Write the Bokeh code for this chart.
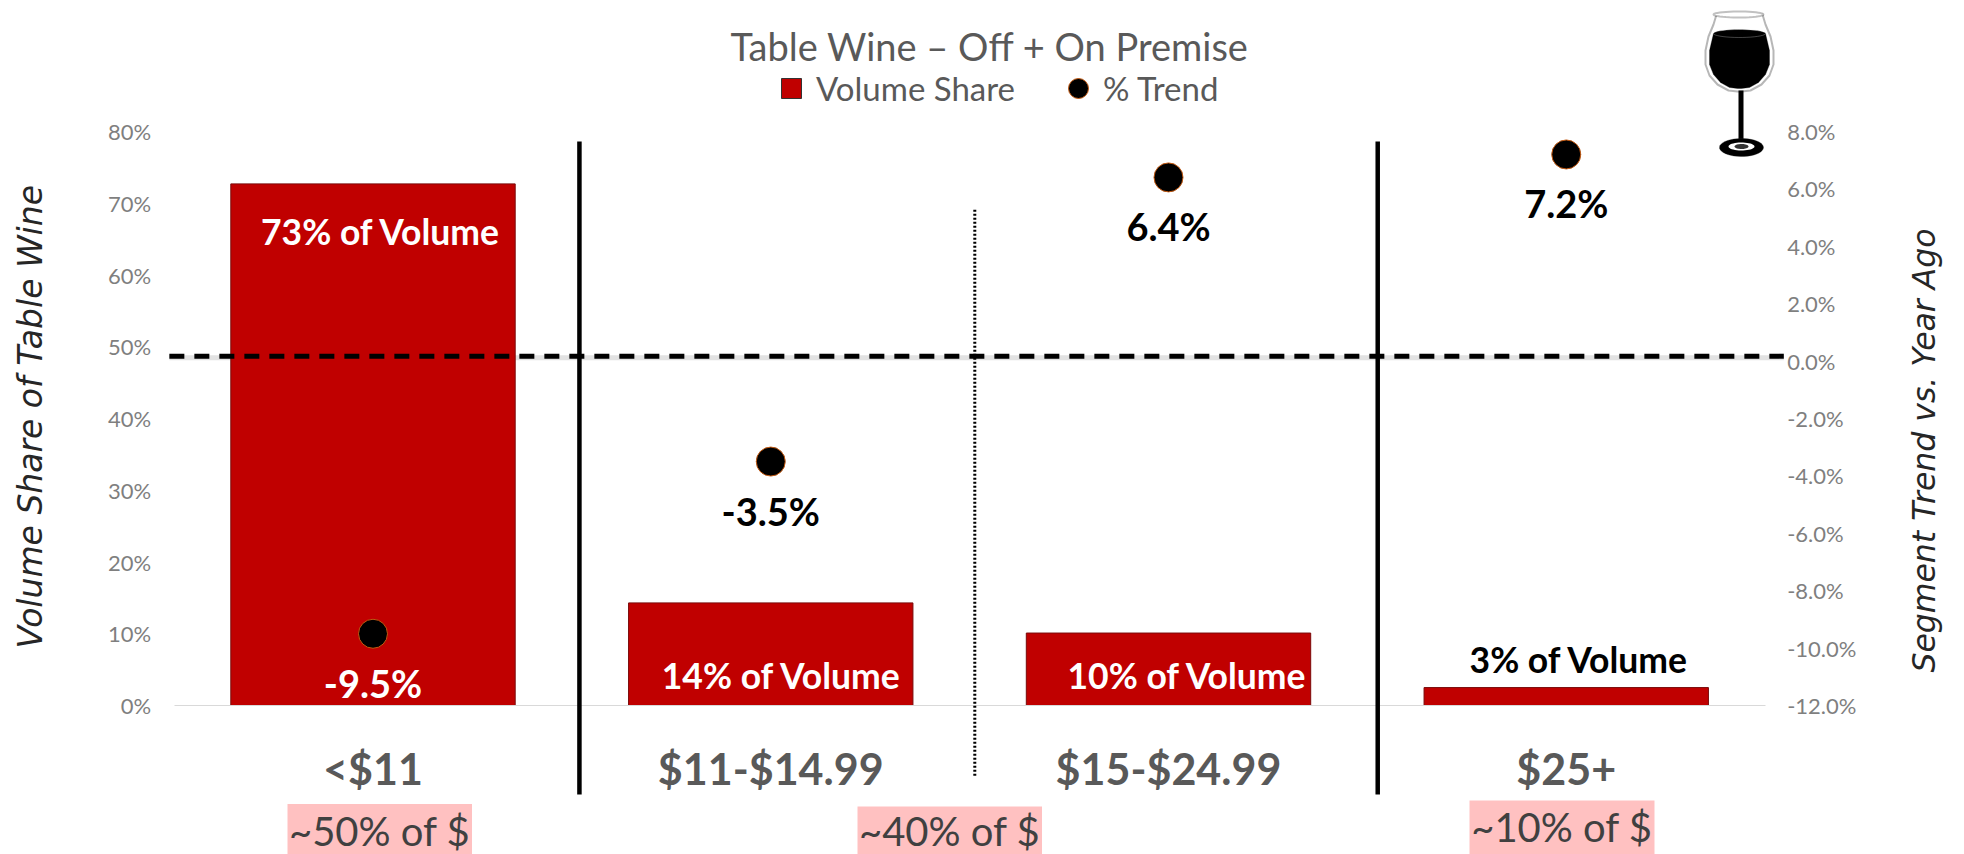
import numpy as np
from bokeh.core.properties import value
from bokeh.embed import file_html
from bokeh.models import (Arrow, BoxAnnotation, FixedTicker, Label, Legend, LegendItem, LinearAxis,
                          PolyAnnotation, PrintfTickFormatter, Range1d)
from bokeh.plotting import figure
from bokeh.resources import INLINE

# ---- data ----
categories = ["<$11", "$11-$14.99", "$15-$24.99", "$25+"]
volume_share = [72.7, 14.3, 10.1, 2.5]
volume_pct_labels = ["73% of Volume", "14% of Volume", "10% of Volume", "3% of Volume"]
trend = [-9.5, -3.5, 6.4, 7.2]
trend_labels = ["-9.5%", "-3.5%", "6.4%", "7.2%"]
dollar_labels = ["~50% of $", "~40% of $", "~10% of $"]
share_ticks = [0, 10, 20, 30, 40, 50, 60, 70, 80]
trend_ticks = [-12, -10, -8, -6, -4, -2, 0, 2, 4, 6, 8]

# ---- style ----
RED = "#C00000"
GREY = "#595959"
TICK = "#7F7F7F"
SANS = "Lato"
AX = "DejaVu Sans"
W, H = 1964, 854
xs = list(range(len(categories)))

# The plot area fills the page, so that marks outside the axes are not clipped;
# the axes sit at fixed places inside it.
def fx(px):
    return (float(px) - 372.5) / 397.75

def fy(py):
    return (705 - float(py)) / 7.175

p = figure(width=W, height=H, output_backend="svg", toolbar_location=None,
           x_range=Range1d(fx(0), fx(W)), y_range=Range1d(fy(H), fy(0)),
           x_axis_location=None, y_axis_location=None,
           min_border=0, outline_line_color=None, background_fill_color="white", border_fill_color="white")
p.grid.visible = False
p.extra_y_ranges = {"trend": Range1d(-12 + (705 - H) / 28.7, -12 + 705 / 28.7)}

xa = LinearAxis(fixed_location=0, bounds=(-0.5, 3.5), ticker=FixedTicker(ticks=xs),
                major_label_overrides={i: c for i, c in enumerate(categories)},
                major_tick_line_color=None, minor_tick_line_color=None, axis_line_color="#D9D9D9",
                major_label_standoff=31, major_label_text_font=SANS, major_label_text_font_style="bold",
                major_label_text_font_size="43px", major_label_text_color=GREY)
p.add_layout(xa, "below")

ya = LinearAxis(fixed_location=-0.5, bounds=(0, 82), ticker=FixedTicker(ticks=share_ticks),
                formatter=PrintfTickFormatter(format="%d%%"),
                major_tick_line_color=None, minor_tick_line_color=None, axis_line_color=None,
                major_label_standoff=17, major_label_text_font=SANS,
                major_label_text_font_size="22px", major_label_text_color=TICK,
                axis_label="Volume Share of Table  Wine", axis_label_text_font=AX,
                axis_label_text_font_style="italic", axis_label_text_font_size="33px",
                axis_label_text_color="#262626", axis_label_standoff=55)
p.add_layout(ya, "left")

y2 = LinearAxis(fixed_location=3.5, y_range_name="trend", bounds=(-12, 8), ticker=FixedTicker(ticks=trend_ticks),
                formatter=PrintfTickFormatter(format="%.1f%%"),
                major_tick_line_color=None, minor_tick_line_color=None, axis_line_color=None,
                major_label_standoff=16, major_label_text_font=SANS,
                major_label_text_font_size="22px", major_label_text_color=TICK)
p.add_layout(y2, "right")
p.add_layout(Label(x=1923, y=H - 450, x_units="screen", y_units="screen", angle=np.pi / 2,
                   text="Segment Trend vs. Year Ago", text_align="center", text_baseline="middle",
                   text_font=AX, text_font_style="italic", text_font_size="31.5px", text_color="#262626"))

# title
p.add_layout(Label(x=730, y=H - 45, x_units="screen", y_units="screen",
                   text="Table Wine \u2013 Off + On Premise", text_align="left", text_baseline="middle",
                   text_font=SANS, text_font_size="38px", text_color=GREY))

# marks
bars = p.vbar(x=xs, top=volume_share, width=0.715, fill_color=RED, line_color="#7A0A0A", line_width=1)
dots = p.scatter(x=xs, y=trend, y_range_name="trend", size=29, marker="circle",
                 fill_color="black", line_color="#C55A11", line_width=1)
share_key = p.scatter(x=[float("nan")], y=[float("nan")], marker="square", fill_color=RED,
                      line_color="#333333", line_width=1)

# value labels
share_dx = [8, 11, 19, 13]
share_dy = [48, 73, 42, -28]
share_colors = ["white", "white", "white", "black"]
p.text(x=xs, y=volume_share, text=volume_pct_labels, x_offset=share_dx, y_offset=share_dy,
       text_align="center", text_baseline="middle", text_font=value(SANS), text_font_style="bold",
       text_font_size="35.5px", text_color=share_colors)
trend_colors = ["white", "black", "black", "black"]
p.text(x=xs, y=trend, y_range_name="trend", text=trend_labels, x_offset=0, y_offset=49,
       text_align="center", text_baseline="middle", text_font=value(SANS), text_font_style="bold",
       text_font_size="38px", text_color=trend_colors)

# dividers and the zero line
for x in (0.519, 2.526):
    p.add_layout(Arrow(end=None, x_start=x, x_end=x, y_start=78.6, y_end=-12.4,
                       line_color="black", line_width=4.5))
p.add_layout(Arrow(end=None, x_start=1.513, x_end=1.513, y_start=69.1, y_end=-9.8,
                   line_color="black", line_width=3, line_dash="2 2"))
p.add_layout(Arrow(end=None, x_start=-0.512, x_end=3.547, y_start=0.12, y_end=0.12, y_range_name="trend",
                   line_color="#E2E2E2", line_width=5, level="underlay"))
p.add_layout(Arrow(end=None, x_start=-0.512, x_end=3.547, y_start=0.17, y_end=0.17, y_range_name="trend",
                   line_color="black", line_width=5, line_dash="15 10"))

# pink dollar-share callouts
callouts = [(287, 471.5, 803.5, 830), (857, 1041.5, 806, 830), (1469, 1654, 800, 826)]
for (l, r, t, cy), txt in zip(callouts, dollar_labels):
    p.add_layout(BoxAnnotation(left=l, right=r, top=H - t, bottom=0,
                               left_units="screen", right_units="screen", top_units="screen",
                               bottom_units="screen", fill_color="#FFC1C1", fill_alpha=1, line_color=None))
    p.add_layout(Label(x=(l + r) / 2, y=H - cy, x_units="screen", y_units="screen", text=txt,
                       text_align="center", text_baseline="middle", text_font=SANS,
                       text_font_size="40px", text_color="#404040"))

# legend: a legend marker is 0.4 of the glyph box
leg = Legend(items=[LegendItem(label="Volume Share", renderers=[share_key]),
                    LegendItem(label="% Trend", renderers=[dots])],
             orientation="horizontal", location=(766, H - 113),
             glyph_width=50, glyph_height=50, label_standoff=-9, padding=0, margin=0, spacing=38,
             border_line_color=None, background_fill_alpha=0,
             label_text_font=SANS, label_text_font_size="33px", label_text_color=GREY)
p.add_layout(leg)

# wine glass drawn as shapes
def poly(pts, **kw):
    a = np.array(pts, dtype=float)
    p.add_layout(PolyAnnotation(xs=list(a[:, 0]), ys=list(H - a[:, 1]), xs_units="screen", ys_units="screen", **kw))

def ell(cx, cy, rx, ry):
    t = np.linspace(0, 2 * np.pi, 40)
    return np.c_[cx + rx * np.cos(t), cy + ry * np.sin(t)]

right_side = [(1762, 14), (1765, 24), (1770, 36), (1773, 50), (1773, 64), (1769, 75), (1761, 84), (1750, 90), (1741, 91)]
left_side = [(2 * 1739 - x, y) for x, y in reversed(right_side)]
poly(left_side + right_side, fill_color="white", fill_alpha=1, line_color="#111111", line_width=2)
poly(ell(1738, 14, 25, 3), fill_color="white", fill_alpha=1, line_color="#333333", line_width=2)
wine_r = [(1765, 33), (1769, 50), (1769, 64), (1765, 74), (1758, 82), (1749, 87), (1741, 88)]
wine_l = [(2 * 1739 - x, y) for x, y in reversed(wine_r)]
poly(wine_l + wine_r, fill_color="black", fill_alpha=1, line_color="black", line_width=1)
poly(ell(1739, 33, 26, 4), fill_color="black", fill_alpha=1, line_color="#DDDDDD", line_width=1)
poly([(1738, 90), (1743, 90), (1743, 142), (1738, 142)], fill_color="black", fill_alpha=1, line_color=None)
poly(ell(1741, 147, 22, 9), fill_color="black", fill_alpha=1, line_color="#222222", line_width=1)
poly(ell(1741, 146, 13, 4), fill_color="white", fill_alpha=1, line_color=None)
poly(ell(1741, 146, 7, 2.5), fill_color="#333333", fill_alpha=1, line_color=None)

open("out.html", "w").write(file_html(p, INLINE))
